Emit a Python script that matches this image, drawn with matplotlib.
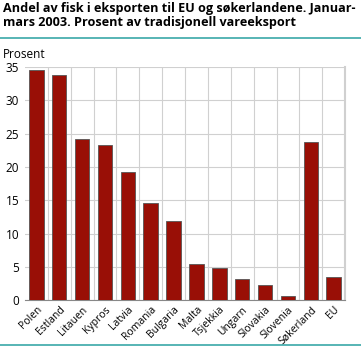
import numpy as np
import matplotlib.pyplot as plt
from matplotlib.lines import Line2D

plt.rcParams['font.family'] = ['Open Sans', 'DejaVu Sans']

land = ['Polen', 'Estland', 'Litauen', 'Kypros', 'Latvia', 'Romania', 'Bulgaria',
        'Malta', 'Tsjekkia', 'Ungarn', 'Slovakia', 'Slovenia', 'Søkerland', 'EU']
andel = [34.6, 33.8, 24.2, 23.3, 19.3, 14.6, 11.9, 5.4, 4.8, 3.2, 2.3, 0.6, 23.7, 3.5]
yticks = [0, 5, 10, 15, 20, 25, 30, 35]

fig = plt.figure(figsize=(3.61, 3.49), dpi=100)
ax = fig.add_axes([0.069, 0.140, 0.887, 0.668])

x = np.arange(len(land))
ax.bar(x, andel, width=0.63, color='#990f06', edgecolor='#555555', linewidth=0.6, zorder=3)

ax.set_xlim(-0.5, len(land) - 0.5)
ax.set_ylim(0, 35)
ax.set_yticks(yticks)
ax.set_xticks(x)
ax.set_xticklabels(land, rotation=45, ha='right', rotation_mode='anchor', fontsize=7.5)
ax.tick_params(axis='y', length=0, labelsize=8.5, pad=4)
ax.tick_params(axis='x', length=0, pad=3)
ax.set_xticks(x[:-1] + 0.5, minor=True)
ax.grid(axis='y', which='major', color='#d0d0d0', linewidth=0.8, zorder=0)
ax.grid(axis='x', which='minor', color='#d0d0d0', linewidth=0.8, zorder=0)
ax.tick_params(axis='x', which='minor', length=0)
for s in ax.spines.values():
    s.set_color('#d0d0d0')
ax.spines['left'].set_visible(False)
ax.spines['top'].set_visible(False)
ax.spines['bottom'].set_color('#888888')
ax.spines['right'].set_linewidth(1.5)

fig.text(0.008, 0.995, 'Andel av fisk i eksporten til EU og søkerlandene. Januar-\nmars 2003. Prosent av tradisjonell vareeksport',
         fontsize=9.1, fontweight='bold', va='top', ha='left', linespacing=1.15)
fig.add_artist(Line2D([0, 1], [0.89, 0.89], color='#3aa8a8', linewidth=1.2))
fig.add_artist(Line2D([0, 1], [0.012, 0.012], color='#3aa8a8', linewidth=1.2))
fig.text(0.008, 0.845, 'Prosent', fontsize=8.5, va='center', ha='left')

fig.savefig('out.png', dpi=100)
